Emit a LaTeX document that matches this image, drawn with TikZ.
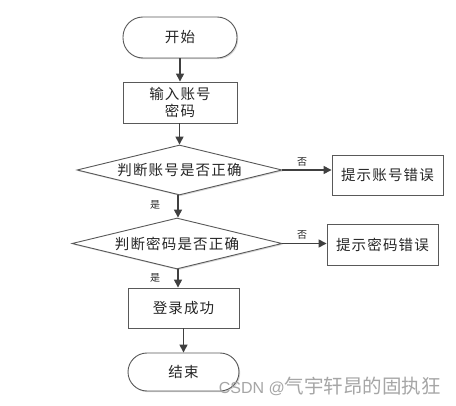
\documentclass[tikz,border=0pt]{standalone}
\usepackage{fontspec}
\setmainfont{Noto Sans CJK SC}[LetterSpace=8]
\newfontfamily\wmcjk{Noto Sans CJK SC}
\newfontfamily\wmlat{Liberation Sans}
\usetikzlibrary{shapes.geometric,arrows.meta,shadows}
\begin{document}
\begin{tikzpicture}[x=1pt,y=-1pt,
  every node/.style={font=\fontsize{14.5}{17}\selectfont, text=black!85},
  boxshape/.style={draw=black!65, line width=0.9pt, fill=white, inner sep=0pt, drop shadow={shadow xshift=1.2pt, shadow yshift=-1.2pt, fill=black!25, opacity=0.6}},
  termshape/.style={draw=black!65, line width=0.9pt, fill=white, inner sep=0pt, rounded corners=20pt, drop shadow={shadow xshift=1.2pt, shadow yshift=-1.2pt, fill=black!25, opacity=0.6}},
  dshape/.style={draw=black!65, line width=0.9pt, fill=white, diamond, aspect=4.1, inner sep=0pt, drop shadow={shadow xshift=1.2pt, shadow yshift=-1.2pt, fill=black!25, opacity=0.6}},
  flow/.style={draw=black!75, line width=1.4pt, -{Triangle[length=8pt,width=8pt]}},
  small/.style={font=\fontsize{10}{12}\selectfont, text=black!85}
]
\useasboundingbox (0,0) rectangle (456,406);
\fill[white] (0,0) rectangle (456,406);

\node[termshape, minimum width=114pt, minimum height=41pt] (start) at (180,37.5) {开始};
\node[boxshape, minimum width=114pt, minimum height=41pt, align=center] (input) at (180,102.5) {输入账号\\密码};
\node[dshape, minimum width=205pt, minimum height=50pt] (d1) at (179.5,170) {判断账号是否正确};
\node[boxshape, minimum width=111pt, minimum height=40pt] (e1) at (387.5,175) {提示账号错误};
\node[dshape, minimum width=210pt, minimum height=51pt] (d2) at (177,243.5) {判断密码是否正确};
\node[boxshape, minimum width=111pt, minimum height=41pt] (e2) at (382.5,244.5) {提示密码错误};
\node[boxshape, minimum width=111pt, minimum height=40pt] (ok) at (183.5,308) {登录成功};
\node[termshape, minimum width=111pt, minimum height=38pt, rounded corners=19pt] (end) at (183.5,372) {结束};

\draw[flow] (start) -- (input);
\draw[flow] (input.south -| d1.north) -- (d1.north);
\draw[flow] (d1.south -| 178,0) -- (d2.north -| 178,0);
\draw[flow] (d2.south -| 178,0) -- (ok.north -| 178,0);
\draw[flow] (ok) -- (end);
\draw[flow] (d1.east) -- (e1.west |- d1.east);
\draw[flow] (d2.east) -- (e2.west |- d2.east);

\node[small] (y1) at (155,205) {是};
\node[small] (y2) at (155,278) {是};
\node[small] (n1) at (302,162) {否};
\node[small] (n2) at (302,235) {否};

\node[text=black!35, anchor=east, inner sep=0pt] (wm) at (441,386) {\wmlat\fontsize{16}{18}\selectfont CSDN @\wmcjk\fontsize{19.5}{22}\selectfont 气宇轩昂的固执狂};
\end{tikzpicture}
\end{document}
